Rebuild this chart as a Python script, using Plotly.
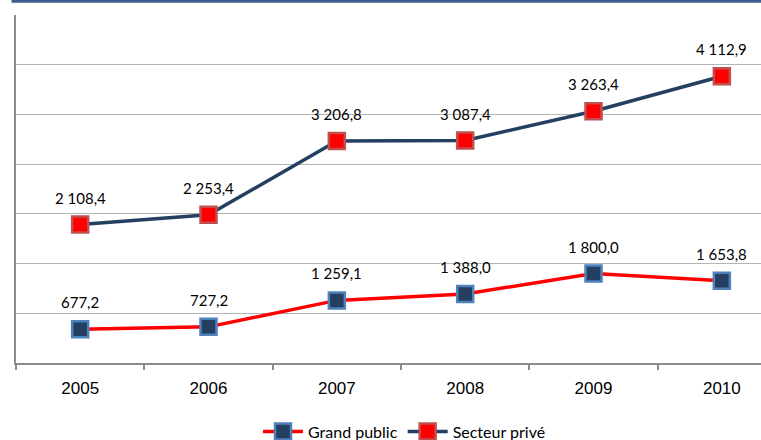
import plotly.graph_objects as go
import numpy as np

years = ["2005", "2006", "2007", "2008", "2009", "2010"]
grand_public = [677.2, 727.2, 1259.1, 1388.0, 1800.0, 1653.8]
secteur_prive = [2108.4, 2253.4, 3206.8, 3087.4, 3263.4, 4112.9]

# stacked line chart: second series sits on top of the first
gp = np.array(grand_public)
sp_stacked = gp + np.array(secteur_prive)

def fr(v):
    return f"{v:,.1f}".replace(",", " ").replace(".", ",")

NAVY = "#243F60"
RED = "#FF0000"

fig = go.Figure()
fig.add_trace(go.Scatter(
    x=years, y=gp, name="Grand public", mode="lines+markers",
    line=dict(color=RED, width=3.5),
    marker=dict(symbol="square", size=16, color=NAVY, line=dict(color="#4F81BD", width=2.5)),
))
fig.add_trace(go.Scatter(
    x=years, y=sp_stacked, name="Secteur privé", mode="lines+markers",
    line=dict(color=NAVY, width=3.5),
    marker=dict(symbol="square", size=16, color=RED, line=dict(color="#C0504D", width=2.5)),
))

annotations = []
for ys, raw in [(gp, grand_public), (sp_stacked, secteur_prive)]:
    for i, (y, r) in enumerate(zip(ys, raw)):
        annotations.append(dict(
            x=i, y=float(y), xref="x", yref="y", text=fr(r), showarrow=False, yshift=27,
            font=dict(family="Lato", size=15, color="#000000"),
        ))

fig.update_layout(
    width=761, height=440,
    margin=dict(l=16, r=0, t=15, b=77, autoexpand=False),
    paper_bgcolor="white", plot_bgcolor="white",
    showlegend=True,
    legend=dict(orientation="h", x=(258 - 16) / 745, xanchor="left", y=-0.197, yanchor="middle",
                font=dict(family="Lato", size=16, color="#000000"),
                itemwidth=40, tracegroupgap=0),
    annotations=annotations,
    shapes=[dict(type="rect", xref="paper", yref="paper",
                 x0=-0.006, x1=1.0, y0=1.0355, y1=1.0431,
                 fillcolor="#3C5F8E", line=dict(width=0), layer="above")],
)
fig.update_xaxes(
    type="category", range=[-0.5, 5.305],
    showline=True, linecolor="#8C8C8C", linewidth=2,
    ticks="outside", tickson="boundaries", ticklen=5, tickcolor="#8C8C8C", tickwidth=2,
    showgrid=False, zeroline=False, ticklabelstandoff=9,
    tickfont=dict(family="Liberation Sans", size=17, color="#000000"),
)
fig.update_yaxes(
    range=[0, 7000], dtick=1000, tick0=0,
    showgrid=True, gridcolor="#B4B4B4", gridwidth=1,
    showline=True, linecolor="#8C8C8C", linewidth=2,
    showticklabels=False, ticks="", zeroline=False,
)

fig.write_html("out.html", config={"displayModeBar": False},
               post_script="document.body.style.margin='0';")
